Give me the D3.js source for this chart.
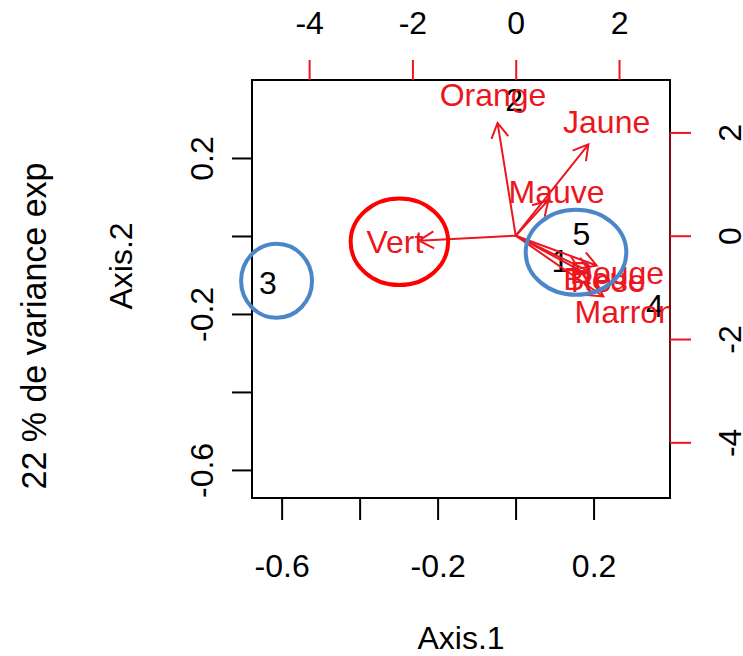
<!DOCTYPE html>
<html>
<head>
<meta charset="utf-8">
<script src="https://cdn.jsdelivr.net/npm/d3@7"></script>
<style>
  body { margin: 0; background: #fff; }
  svg { display: block; }
  text { font-family: "Liberation Sans", Arial, sans-serif; }
</style>
</head>
<body>
<script>
  // observations (Axis.1 / Axis.2 scores)
  var obsLabels = ["1", "2", "3", "4", "5"];
  var obsAxis1 = [0.115, -0.004, -0.635, 0.357, 0.169];
  var obsAxis2 = [-0.062, 0.349, -0.118, -0.179, 0.007];

  // variables (loadings, top / right scale)
  var varLabels = ["Orange", "Jaune", "Mauve", "Vert", "Rouge", "Bleu", "Rose", "Marron"];
  var varAxis1 = [-0.44, 1.76, 0.79, -2.34, 1.96, 1.54, 1.79, 2.12];
  var varAxis2 = [2.73, 2.21, 0.86, -0.12, -0.72, -0.83, -0.87, -1.47];

  // ticks
  var bottomTicks = [-0.6, -0.4, -0.2, 0, 0.2];
  var bottomLabels = ["-0.6", "", "-0.2", "", "0.2"];
  var leftTicks = [0.2, 0, -0.2, -0.4, -0.6];
  var leftLabels = ["0.2", "", "-0.2", "", "-0.6"];
  var topTicks = [-4, -2, 0, 2];
  var topLabels = ["-4", "-2", "0", "2"];
  var rightTicks = [2, 0, -2, -4];
  var rightLabels = ["2", "0", "-2", "-4"];

  // circles drawn on top of the plot (Axis.1 / Axis.2 units)
  var ringCx = [-0.298, -0.613, 0.155];
  var ringCy = [-0.015, -0.115, -0.042];
  var ringRx = [0.125, 0.091, 0.129];
  var ringRy = [0.111, 0.095, 0.109];
  var ringColor = ["#ff0000", "#4a86c8", "#4a86c8"];

  var width = 743, height = 656;
  var box = { left: 252, right: 670, top: 80, bottom: 498 };
  var red = "#ec1620";
  var fs = 32;

  var svg = d3.select("body").append("svg")
    .attr("width", width).attr("height", height);

  var x1 = d3.scaleLinear().domain([-0.676, 0.396]).range([box.left, box.right]);
  var y1 = d3.scaleLinear().domain([-0.672, 0.4]).range([box.bottom, box.top]);
  var x2 = d3.scaleLinear().domain([-5.106, 2.987]).range([box.left, box.right]);
  var y2 = d3.scaleLinear().domain([-5.078, 3.015]).range([box.bottom, box.top]);

  svg.append("clipPath").attr("id", "plotclip")
    .append("rect")
    .attr("x", box.left).attr("y", box.top)
    .attr("width", box.right - box.left).attr("height", box.bottom - box.top);

  var plot = svg.append("g").attr("clip-path", "url(#plotclip)");

  // observation labels
  plot.selectAll("text.obs")
    .data(obsLabels)
    .enter().append("text")
    .attr("class", "obs")
    .attr("x", function(d, i) { return x1(obsAxis1[i]); })
    .attr("y", function(d, i) { return y1(obsAxis2[i]); })
    .attr("dy", "0.36em")
    .attr("text-anchor", "middle")
    .attr("font-size", fs)
    .attr("fill", "#000")
    .text(function(d) { return d; });

  // variable labels
  plot.selectAll("text.var")
    .data(varLabels)
    .enter().append("text")
    .attr("class", "var")
    .attr("x", function(d, i) { return x2(varAxis1[i]); })
    .attr("y", function(d, i) { return y2(varAxis2[i]); })
    .attr("dy", "0.36em")
    .attr("text-anchor", "middle")
    .attr("font-size", fs)
    .attr("fill", red)
    .text(function(d) { return d; });

  // arrows to 0.8 of the label position
  var headLen = 17, headAng = Math.PI / 6;
  varLabels.forEach(function(d, i) {
    var x0 = x2(0), y0 = y2(0);
    var xt = x2(varAxis1[i] * 0.8), yt = y2(varAxis2[i] * 0.8);
    var a = Math.atan2(yt - y0, xt - x0);
    var path = d3.path();
    path.moveTo(x0, y0);
    path.lineTo(xt, yt);
    path.moveTo(xt - headLen * Math.cos(a - headAng), yt - headLen * Math.sin(a - headAng));
    path.lineTo(xt, yt);
    path.lineTo(xt - headLen * Math.cos(a + headAng), yt - headLen * Math.sin(a + headAng));
    plot.append("path")
      .attr("d", path.toString())
      .attr("fill", "none")
      .attr("stroke", red)
      .attr("stroke-width", 2);
  });

  // box
  svg.append("rect")
    .attr("x", box.left).attr("y", box.top)
    .attr("width", box.right - box.left).attr("height", box.bottom - box.top)
    .attr("fill", "none").attr("stroke", "#000").attr("stroke-width", 2);

  function styleAxis(g, color) {
    g.select(".domain").remove();
    g.selectAll(".tick line").attr("stroke", color).attr("stroke-width", 2);
    g.selectAll(".tick text")
      .attr("fill", "#000")
      .attr("font-size", fs)
      .attr("font-family", '"Liberation Sans", Arial, sans-serif');
  }

  // bottom axis
  var gb = svg.append("g").attr("transform", "translate(0," + box.bottom + ")")
    .call(d3.axisBottom(x1).tickValues(bottomTicks).tickSize(22)
      .tickFormat(function(d, i) { return bottomLabels[i]; }));
  styleAxis(gb, "#000");
  gb.selectAll(".tick text").attr("y", 67).attr("dy", "0.36em");

  // left axis
  var gl = svg.append("g").attr("transform", "translate(" + box.left + ",0)")
    .call(d3.axisLeft(y1).tickValues(leftTicks).tickSize(20)
      .tickFormat(function(d, i) { return leftLabels[i]; }));
  styleAxis(gl, "#000");
  gl.selectAll(".tick text")
    .attr("x", null).attr("dy", "0.36em")
    .attr("text-anchor", "middle")
    .attr("transform", "translate(-51,0) rotate(-90)");

  // top axis (red)
  var gt = svg.append("g").attr("transform", "translate(0," + box.top + ")")
    .call(d3.axisTop(x2).tickValues(topTicks).tickSize(20)
      .tickFormat(function(d, i) { return topLabels[i]; }));
  styleAxis(gt, red);
  gt.selectAll(".tick text").attr("y", -58).attr("dy", "0.36em");

  // right axis (red)
  var gr = svg.append("g").attr("transform", "translate(" + box.right + ",0)")
    .call(d3.axisRight(y2).tickValues(rightTicks).tickSize(21)
      .tickFormat(function(d, i) { return rightLabels[i]; }));
  styleAxis(gr, red);
  gr.selectAll(".tick text")
    .attr("x", null).attr("dy", "0.36em")
    .attr("text-anchor", "middle")
    .attr("transform", "translate(59,0) rotate(-90)");
  gr.append("line")
    .attr("y1", y2(rightTicks[0])).attr("y2", y2(rightTicks[rightTicks.length - 1]))
    .attr("stroke", red).attr("stroke-width", 1);

  // axis titles
  svg.append("text")
    .attr("x", (box.left + box.right) / 2).attr("y", 637).attr("dy", "0.36em")
    .attr("text-anchor", "middle").attr("font-size", fs)
    .text("Axis.1");
  svg.append("text")
    .attr("transform", "translate(120,266) rotate(-90)").attr("dy", "0.36em")
    .attr("text-anchor", "middle").attr("font-size", fs)
    .text("Axis.2");
  svg.append("text")
    .attr("transform", "translate(33,326) rotate(-90)").attr("dy", "0.36em")
    .attr("text-anchor", "middle").attr("font-size", 35)
    .attr("font-family", '"Open Sans", sans-serif')
    .attr("textLength", 327).attr("lengthAdjust", "spacingAndGlyphs")
    .text("22 % de variance exp");

  // highlight rings
  svg.selectAll("ellipse.ring")
    .data(ringCx)
    .enter().append("ellipse")
    .attr("class", "ring")
    .attr("cx", function(d) { return x1(d); })
    .attr("cy", function(d, i) { return y1(ringCy[i]); })
    .attr("rx", function(d, i) { return x1(ringRx[i]) - x1(0); })
    .attr("ry", function(d, i) { return y1(0) - y1(ringRy[i]); })
    .attr("fill", "none")
    .attr("stroke", function(d, i) { return ringColor[i]; })
    .attr("stroke-width", 4);
</script>
</body>
</html>
